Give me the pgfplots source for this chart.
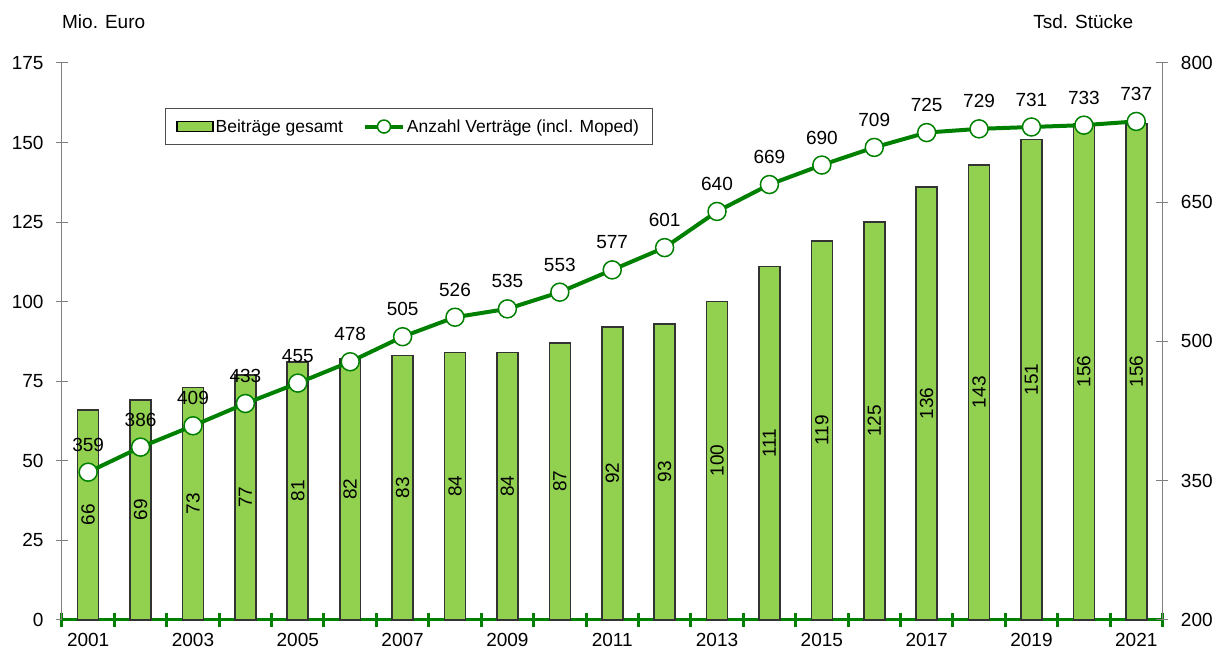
\documentclass[border=0pt]{standalone}
\usepackage{pgfplots}
\pgfplotsset{compat=1.18}
\usepackage{pgfplotstable}
\usepackage{fontspec}
\setmainfont{Liberation Sans}
\definecolor{barg}{RGB}{146,208,80}
\definecolor{lineg}{RGB}{0,128,0}
\definecolor{axgray}{RGB}{128,128,128}

\pgfplotstableread{
x v
1 66
2 69
3 73
4 77
5 81
6 82
7 83
8 84
9 84
10 87
11 92
12 93
13 100
14 111
15 119
16 125
17 136
18 143
19 151
20 156
21 156
}\bardata

\pgfplotstableread{
x n
1 359
2 386
3 409
4 433
5 455
6 478
7 505
8 526
9 535
10 553
11 577
12 601
13 640
14 669
15 690
16 709
17 725
18 729
19 731
20 733
21 737
}\linedata

\newcommand{\fs}{\fontsize{19}{22}\selectfont}
\newcommand{\lfs}{\fontsize{17.5}{20}\selectfont}

\begin{document}
\begin{tikzpicture}[x=1pt,y=1pt]
\path (0,0) rectangle (1216,654);
\node[anchor=west, font=\fs, inner sep=0pt] at (62,632.5) {Mio. Euro};
\node[anchor=east, font=\fs, inner sep=0pt] at (1134,632.5) {Tsd. Stücke};
\begin{axis}[
  at={(62pt,34pt)}, anchor=south west, scale only axis,
  width=1101pt, height=557pt,
  xmin=0.5, xmax=21.5, ymin=0, ymax=175,
  /pgf/number format/assume math mode=true,
  axis y line*=left, axis x line*=bottom,
  y axis line style={draw=axgray, line width=1pt, -},
  x axis line style={draw=lineg, line width=3pt, -},
  ytick={0,25,...,175},
  ytick style={draw=axgray, line width=1pt},
  major tick length=12pt,
  tick align=center,
  xtick={1,3,...,21},
  xticklabels={2001,2003,2005,2007,2009,2011,2013,2015,2017,2019,2021},
  major x tick style={draw=none},
  minor xtick={0.5,1.5,...,21.5},
  minor x tick style={draw=lineg, line width=3pt},
  minor tick length=14pt,
  ticklabel style={font=\fs},
  yticklabel style={xshift=-9pt},
  xticklabel style={yshift=-4pt},
  clip=false,
]
\addplot[ybar, bar width=21pt, bar shift=0pt, fill=barg, draw=black!80, line width=1.6pt]
  table[x=x, y=v] {\bardata};
\addplot[only marks, mark=none, nodes near coords, point meta=explicit symbolic,
  every node near coord/.append style={rotate=90, anchor=center, font=\fs, inner sep=0pt}]
  table[x=x, y expr=\thisrow{v}/2, meta=v] {\bardata};
\end{axis}
\begin{axis}[
  at={(62pt,34pt)}, anchor=south west, scale only axis,
  width=1101pt, height=557pt,
  xmin=0.5, xmax=21.5, ymin=200, ymax=800,
  /pgf/number format/assume math mode=true,
  axis y line*=right, axis x line=none,
  y axis line style={draw=axgray, line width=1pt, -},
  ytick={200,350,...,800},
  ytick style={draw=axgray, line width=1pt},
  major tick length=12pt,
  tick align=center,
  ticklabel style={font=\fs},
  yticklabel style={xshift=9pt},
  clip=false,
  legend columns=2,
  legend style={at={(0.0936,0.919)}, anchor=north west, font=\lfs,
    draw=black!70, line width=0.8pt, inner xsep=11pt, inner ysep=9pt,
    /tikz/every even column/.append style={column sep=18pt}},
]
\addlegendimage{legend image code/.code={\draw[fill=barg, draw=black, line width=1.3pt] (0pt,-5pt) rectangle (36pt,5pt);}}
\addlegendentry{Beiträge gesamt}
\addplot[lineg, line width=4pt, mark=*, mark size=9pt,
  mark options={fill=white, draw=lineg, line width=1.5pt},
  nodes near coords, point meta=explicit symbolic,
  every node near coord/.append style={anchor=south, yshift=20pt, inner sep=0pt, font=\fs, text=black},
  legend image code/.code={\draw[lineg, line width=4pt] (0pt,0pt) -- (38pt,0pt); \draw[lineg, fill=white, line width=1.5pt] (19pt,0pt) circle (6.5pt);}]
  table[x=x, y=n, meta=n] {\linedata};
\addlegendentry{Anzahl Verträge (incl. Moped)}
\end{axis}
\end{tikzpicture}
\end{document}
